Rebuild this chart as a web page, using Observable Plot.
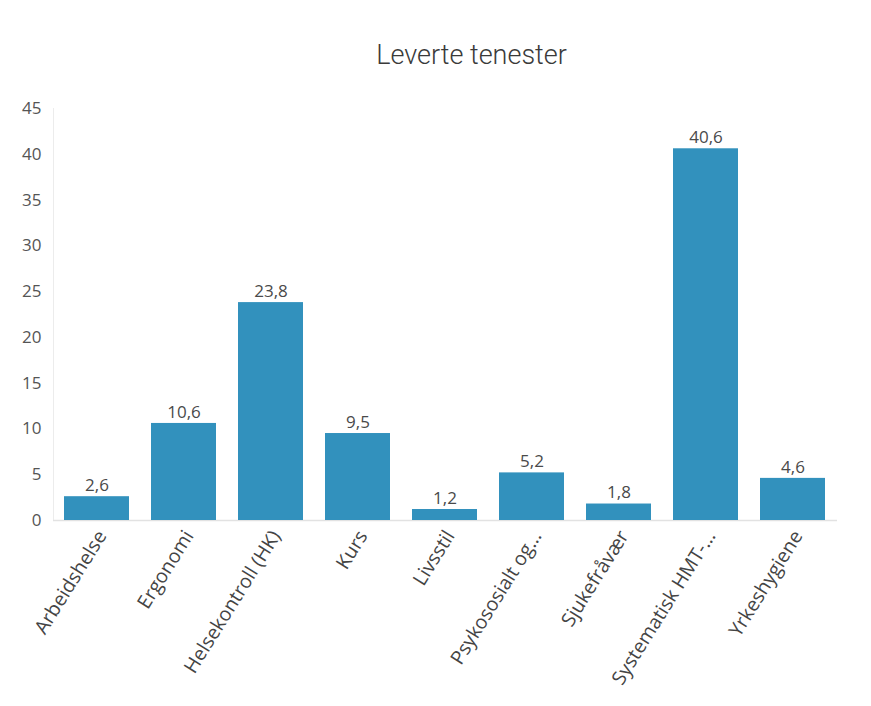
<!DOCTYPE html>
<html><head><meta charset="utf-8">
<script src="https://cdn.jsdelivr.net/npm/d3@7"></script>
<script src="https://cdn.jsdelivr.net/npm/@observablehq/plot@0.6"></script>
<style>
body{margin:0;background:#fff;}
#title{height:90px;box-sizing:border-box;padding-top:38px;padding-left:72px;text-align:center;font-family:Roboto,sans-serif;font-weight:300;font-size:27px;line-height:34px;color:#3a3a3a;width:871px;}
</style></head><body>
<div id="title">Leverte tenester</div>
<div id="chart"></div>
<script>
const categories = ["Arbeidshelse","Ergonomi","Helsekontroll (HK)","Kurs","Livsstil","Psykososialt og...","Sjukefråvær","Systematisk HMT-...","Yrkeshygiene"];
const values = [2.6,10.6,23.8,9.5,1.2,5.2,1.8,40.6,4.6];
const yTicks = [0,5,10,15,20,25,30,35,40,45];
const data = categories.map((c,i)=>({cat:c, value:values[i]}));
const fmt = v => v.toFixed(1).replace(".", ",");
const chart = Plot.plot({
  width: 871, height: 616,
  marginTop: 18, marginBottom: 186, marginLeft: 53, marginRight: 34,
  style: {fontFamily: "'Open Sans', sans-serif", fontSize: "15px", color: "#444", background: "#fff"},
  x: {domain: categories, paddingInner: 0.25, paddingOuter: 0.12, label: null},
  y: {domain: [0,45], label: null},
  marks: [
    Plot.frame({anchor: "left", stroke: "#ececec"}),
    Plot.ruleY([0], {stroke: "#e2e2e2", strokeWidth: 1.5}),
    Plot.barY(data, {x: "cat", y: "value", fill: "#3291bd"}),
    Plot.text(data, {x: "cat", y: "value", text: d => fmt(d.value), dy: -11, fill: "#4a4a4a", fontSize: 17}),
    Plot.axisY({ticks: yTicks, tickSize: 0, tickPadding: 12, fill: "#555", fontSize: 17, label: null}),
    Plot.axisX({tickSize: 0, tickRotate: -58, tickPadding: 12, dx: 5, fill: "#444", fontSize: 19.5, label: null})
  ]
});
document.getElementById("chart").appendChild(chart);
</script>
</body></html>
